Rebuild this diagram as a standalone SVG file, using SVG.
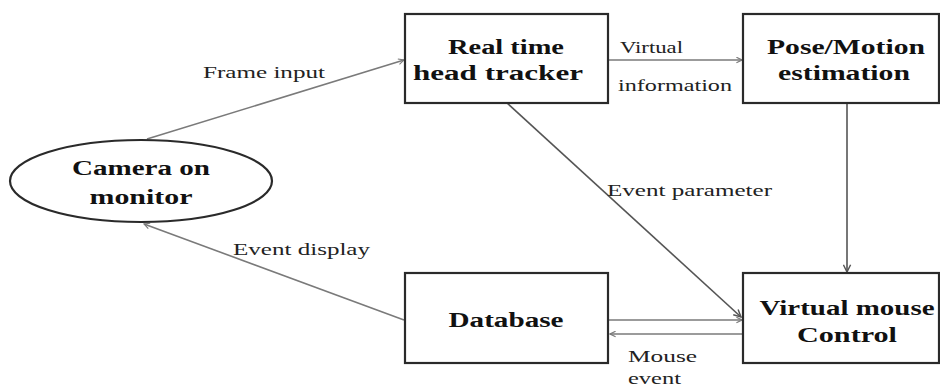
<svg xmlns="http://www.w3.org/2000/svg" width="940" height="389" viewBox="0 0 940 389">
  <style>
    .node { fill: #ffffff; stroke: #2a2a2a; stroke-width: 2.2; }
    .title { font-family: "Liberation Serif", "Times New Roman", serif; font-weight: bold; font-size: 20px; fill: #111; text-anchor: middle; }
    .label { font-family: "Liberation Serif", "Times New Roman", serif; font-size: 16px; fill: #222; }
    .edge { stroke: #7a7a7a; stroke-width: 1.6; fill: none; marker-end: url(#arrow); }
    .edge-dark { stroke: #555; stroke-width: 1.6; fill: none; marker-end: url(#arrow-dark); }
  </style>
  <defs>
    <marker id="arrow" viewBox="0 0 10 10" refX="9" refY="5" markerWidth="7" markerHeight="7" markerUnits="userSpaceOnUse" orient="auto">
      <path d="M1,1 L9,5 L1,9" fill="none" stroke="#7a7a7a" stroke-width="1.6"/>
    </marker>
    <marker id="arrow-dark" viewBox="0 0 10 10" refX="9" refY="5" markerWidth="9" markerHeight="9" markerUnits="userSpaceOnUse" orient="auto">
      <path d="M1,1 L9,5 L1,9" fill="none" stroke="#555" stroke-width="1.6"/>
    </marker>
  </defs>
  <rect width="940" height="389" fill="#ffffff"/>

  <!-- connectors -->
  <g id="connectors">
    <line class="edge" x1="147" y1="139" x2="404" y2="60"/>
    <line class="edge" x1="608" y1="60" x2="742" y2="60"/>
    <line class="edge-dark" x1="847" y1="103" x2="847" y2="272"/>
    <line class="edge-dark" x1="507" y1="103" x2="741" y2="317"/>
    <line class="edge" x1="608" y1="320" x2="742" y2="320"/>
    <line class="edge" x1="743" y1="334" x2="610" y2="334"/>
    <line class="edge" x1="404" y1="320" x2="144" y2="224"/>

    <text class="label" x="203" y="78" textLength="122" lengthAdjust="spacingAndGlyphs">Frame input</text>
    <text class="label" x="620" y="53" textLength="63" lengthAdjust="spacingAndGlyphs">Virtual</text>
    <text class="label" x="618" y="91" textLength="114" lengthAdjust="spacingAndGlyphs">information</text>
    <text class="label" x="607" y="196" textLength="165" lengthAdjust="spacingAndGlyphs">Event parameter</text>
    <text class="label" x="233" y="255" textLength="137" lengthAdjust="spacingAndGlyphs">Event display</text>
    <text class="label" x="628" y="362" textLength="69" lengthAdjust="spacingAndGlyphs">Mouse</text>
    <text class="label" x="628" y="384" textLength="53" lengthAdjust="spacingAndGlyphs">event</text>
  </g>

  <g id="camera">
    <ellipse class="node" cx="141" cy="181" rx="131" ry="41"/>
    <text class="title" x="141" y="175" textLength="138" lengthAdjust="spacingAndGlyphs">Camera on</text>
    <text class="title" x="141" y="204" textLength="103" lengthAdjust="spacingAndGlyphs">monitor</text>
  </g>

  <g id="tracker">
    <rect class="node" x="405" y="14" width="203" height="89"/>
    <text class="title" x="506" y="54" textLength="116" lengthAdjust="spacingAndGlyphs">Real time</text>
    <text class="title" x="498" y="80" textLength="170" lengthAdjust="spacingAndGlyphs">head tracker</text>
  </g>

  <g id="pose">
    <rect class="node" x="743" y="14" width="196" height="89"/>
    <text class="title" x="846" y="54" textLength="158" lengthAdjust="spacingAndGlyphs">Pose/Motion</text>
    <text class="title" x="844" y="80" textLength="132" lengthAdjust="spacingAndGlyphs">estimation</text>
  </g>

  <g id="database">
    <rect class="node" x="405" y="273" width="203" height="90"/>
    <text class="title" x="506" y="327" textLength="115" lengthAdjust="spacingAndGlyphs">Database</text>
  </g>

  <g id="mouse">
    <rect class="node" x="743" y="273" width="196" height="90"/>
    <text class="title" x="847" y="315" textLength="175" lengthAdjust="spacingAndGlyphs">Virtual mouse</text>
    <text class="title" x="847" y="342" textLength="100" lengthAdjust="spacingAndGlyphs">Control</text>
  </g>
</svg>
